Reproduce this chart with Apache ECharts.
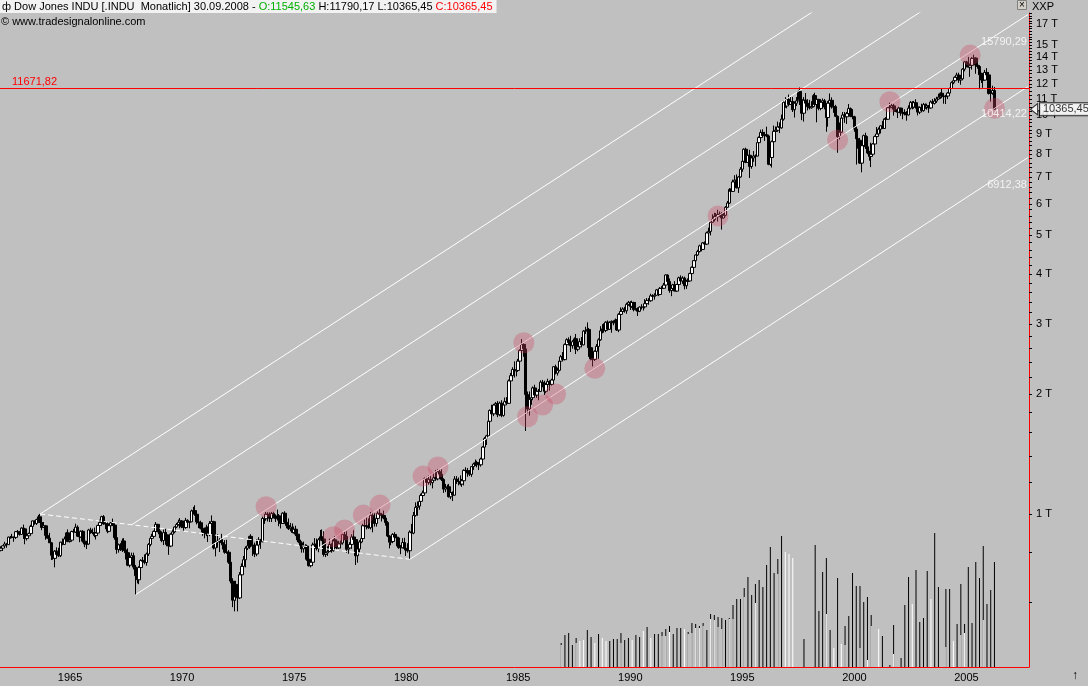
<!DOCTYPE html>
<html>
<head>
<meta charset="utf-8">
<title>Dow Jones INDU - Monatlich</title>
<script src="https://cdn.jsdelivr.net/npm/echarts@6.0.0/dist/echarts.min.js"></script>
<style>
  html, body { margin: 0; padding: 0; background: #c0c0c0; }
  #chart { width: 1088px; height: 686px; }
</style>
</head>
<body>
<div id="chart"></div>
<script>
// --- Kategorien: Monate von 1964-05 bis 2010-03 (Platz rechts vom letzten Bar) ---
const FIRST_YEAR = 1964, FIRST_MONTH = 5, MONTH_COUNT = 551;
const months = [];
for (let i = 0; i < MONTH_COUNT; i++) {
  const m = FIRST_MONTH - 1 + i;
  months.push((FIRST_YEAR + Math.floor(m / 12)) + '-' + String(m % 12 + 1).padStart(2, '0'));
}

// --- Monatskerzen [open, high, low, close], ab 1964-05 ---
const ohlc = [
  // 1964
  [811,830,806,821],[821,834,808,832],[832,852,830,841],[841,845,823,838],[838,878,838,875],[875,881,867,873],[873,892,870,875],[875,877,852,874],
  // 1965
  [874,906,866,903],[903,912,885,903],[903,906,883,889],[889,927,889,922],[922,941,912,918],[918,920,840,868],[868,889,858,882],[882,898,877,893],[893,940,892,931],[931,963,929,961],[961,964,940,947],[947,973,939,969],
  // 1966
  [969,995,966,984],[984,1001,950,952],[952,958,911,925],[925,954,923,934],[934,937,862,884],[884,904,868,870],[870,897,846,847],[847,851,767,788],[788,800,768,774],[774,812,735,807],[807,825,790,792],[792,823,780,786],
  // 1967
  [786,852,780,850],[850,868,835,839],[839,878,838,866],[866,901,860,897],[897,915,850,853],[853,880,848,860],[860,908,857,904],[904,918,890,901],[901,946,897,927],[927,937,876,880],[880,885,850,876],[876,910,872,905],
  // 1968
  [905,911,848,855],[855,862,826,841],[841,849,817,841],[841,918,838,912],[912,924,892,899],[899,920,890,898],[898,925,875,883],[883,902,863,896],[896,940,892,936],[936,968,931,952],[952,990,943,985],[985,994,940,944],
  // 1969
  [944,958,916,946],[946,957,895,905],[905,938,900,935],[935,955,912,950],[950,974,934,938],[938,941,862,873],[873,879,795,815],[815,843,800,837],[837,845,808,813],[813,868,803,856],[856,870,808,812],[812,816,769,800],
  // 1970
  [800,820,740,744],[744,785,735,778],[778,800,760,786],[786,800,726,736],[736,745,627,700],[700,728,670,684],[684,740,667,734],[734,770,700,765],[765,780,742,761],[761,792,748,756],[756,800,742,794],[794,845,785,839],
  // 1971
  [839,875,830,869],[869,892,865,879],[879,910,872,904],[904,955,900,942],[942,945,900,908],[908,928,870,891],[891,905,850,858],[858,915,836,898],[898,918,880,887],[887,900,830,839],[839,848,790,831],[831,895,826,890],
  // 1972
  [890,915,882,902],[902,932,895,928],[928,950,922,941],[941,968,935,954],[954,977,921,961],[961,965,922,929],[929,947,905,925],[925,978,918,964],[964,970,935,953],[953,960,921,956],[956,1026,954,1018],[1018,1042,1000,1020],
  // 1973
  [1020,1052,990,999],[999,1000,942,955],[955,980,922,951],[951,962,915,921],[921,942,882,901],[901,925,869,892],[892,940,880,926],[926,930,851,888],[888,960,880,947],[947,992,940,957],[957,962,815,822],[822,860,783,851],
  // 1974
  [851,890,823,856],[856,870,803,861],[861,892,843,847],[847,865,815,837],[837,860,795,802],[802,862,795,802],[802,812,750,757],[757,800,670,679],[679,690,584,608],[608,680,570,666],[666,680,607,619],[619,625,570,616],
  // 1975
  [616,715,612,704],[704,752,700,739],[739,785,735,768],[768,830,735,821],[821,860,812,832],[832,882,818,879],[879,890,825,832],[832,845,785,835],[835,848,780,794],[794,865,784,836],[836,875,828,861],[861,866,818,852],
  // 1976
  [852,985,850,975],[975,995,945,973],[973,1012,962,999],[999,1011,958,997],[997,1010,955,975],[975,1012,955,1003],[1003,1013,975,985],[985,998,955,974],[974,1026,970,990],[990,1000,932,965],[965,970,920,947],[947,1010,945,1005],
  // 1977
  [1005,1016,946,954],[954,962,921,936],[936,975,912,919],[919,950,905,927],[927,947,895,899],[899,930,893,916],[916,935,880,890],[890,900,850,861],[861,880,832,847],[847,855,800,818],[818,853,800,830],[830,840,803,831],
  // 1978
  [831,838,763,770],[770,785,738,742],[742,768,735,757],[757,848,742,837],[837,870,825,841],[841,868,810,819],[819,870,802,862],[862,912,858,877],[877,915,855,866],[866,905,782,792],[792,820,780,799],[799,830,785,805],
  // 1979
  [805,868,805,839],[839,845,800,809],[809,868,805,862],[862,880,846,855],[855,862,816,822],[822,855,818,842],[842,858,820,846],[846,892,838,888],[888,902,860,879],[879,905,800,816],[816,835,795,822],[822,850,820,839],
  // 1980
  [839,890,818,876],[876,910,848,863],[863,870,745,786],[786,825,755,817],[817,860,800,851],[851,890,845,868],[868,945,866,935],[935,968,918,933],[933,980,915,932],[932,975,918,924],[924,1012,915,993],[993,1010,900,964],
  // 1981
  [964,1005,930,947],[947,985,930,975],[975,1015,965,1004],[1004,1030,980,998],[998,1000,958,992],[992,1020,970,977],[977,980,935,952],[952,960,875,881],[881,885,820,850],[850,880,835,853],[853,895,845,889],[889,900,865,875],
  // 1982
  [875,885,830,871],[871,875,818,824],[824,836,793,823],[823,870,820,848],[848,872,815,820],[820,830,785,812],[812,845,800,809],[809,910,770,901],[901,945,890,896],[896,1012,890,992],[992,1070,985,1039],[1039,1075,990,1047],
  // 1983
  [1047,1100,1025,1076],[1076,1125,1060,1113],[1113,1145,1100,1130],[1130,1235,1115,1226],[1226,1240,1185,1200],[1200,1250,1185,1222],[1222,1250,1180,1199],[1199,1220,1160,1216],[1216,1270,1205,1233],[1233,1290,1212,1225],[1225,1295,1215,1276],[1276,1295,1240,1259],
  // 1984
  [1259,1295,1210,1221],[1221,1230,1130,1155],[1155,1190,1135,1165],[1165,1185,1130,1171],[1171,1190,1100,1105],[1105,1150,1090,1132],[1132,1140,1078,1115],[1115,1245,1115,1224],[1224,1245,1190,1207],[1207,1235,1180,1207],[1207,1250,1180,1189],[1189,1225,1170,1212],
  // 1985
  [1212,1295,1180,1287],[1287,1310,1265,1284],[1284,1305,1240,1267],[1267,1290,1245,1258],[1258,1320,1240,1315],[1315,1345,1290,1335],[1335,1370,1320,1347],[1347,1360,1310,1334],[1334,1345,1290,1329],[1329,1385,1315,1374],[1374,1480,1370,1472],[1472,1560,1460,1547],
  // 1986
  [1547,1580,1490,1571],[1571,1720,1570,1709],[1709,1830,1690,1819],[1819,1880,1750,1784],[1784,1890,1760,1877],[1877,1910,1820,1893],[1893,1920,1750,1775],[1775,1915,1760,1898],[1898,1930,1750,1768],[1768,1890,1755,1878],[1878,1960,1860,1914],[1914,1965,1880,1896],
  // 1987
  [1896,2175,1890,2158],[2158,2260,2140,2224],[2224,2335,2210,2305],[2305,2415,2200,2286],[2286,2345,2215,2292],[2292,2450,2275,2419],[2419,2590,2390,2572],[2572,2747,2540,2663],[2663,2680,2480,2596],[2596,2660,1616,1994],[1994,2030,1790,1834],[1834,2030,1766,1939],
  // 1988
  [1939,2065,1880,1958],[1958,2090,1930,2072],[2072,2110,1975,1988],[1988,2065,1955,2032],[2032,2060,1930,2031],[2031,2165,2025,2142],[2142,2170,2080,2129],[2129,2160,1990,2032],[2032,2125,2010,2113],[2113,2185,2080,2149],[2149,2165,2040,2115],[2115,2185,2100,2169],
  // 1989
  [2169,2350,2140,2342],[2342,2370,2240,2258],[2258,2330,2225,2294],[2294,2430,2280,2419],[2419,2505,2390,2480],[2480,2550,2420,2440],[2440,2680,2430,2661],[2661,2760,2630,2737],[2737,2775,2650,2693],[2693,2800,2550,2645],[2645,2730,2600,2706],[2706,2775,2670,2753],
  // 1990
  [2753,2830,2520,2591],[2591,2660,2560,2627],[2627,2760,2620,2707],[2707,2780,2620,2657],[2657,2895,2650,2877],[2877,2950,2830,2881],[2881,3025,2860,2905],[2905,2930,2480,2614],[2614,2710,2430,2452],[2452,2540,2345,2442],[2442,2575,2420,2560],[2560,2670,2545,2634],
  // 1991
  [2634,2760,2450,2736],[2736,2960,2720,2882],[2882,2995,2840,2914],[2914,3010,2850,2888],[2888,3045,2860,3028],[3028,3060,2900,2907],[2907,3045,2900,3025],[3025,3060,2850,3044],[3044,3060,2975,3017],[3017,3095,2960,3069],[3069,3080,2880,2895],[2895,3190,2860,3169],
  // 1992
  [3169,3300,3150,3223],[3223,3300,3190,3268],[3268,3310,3200,3235],[3235,3390,3180,3359],[3359,3425,3330,3397],[3397,3420,3250,3319],[3319,3430,3290,3394],[3394,3410,3225,3257],[3257,3400,3240,3272],[3272,3300,3140,3226],[3226,3320,3210,3305],[3305,3360,3260,3301],
  // 1993
  [3301,3345,3240,3310],[3310,3460,3280,3371],[3371,3480,3360,3435],[3435,3480,3350,3428],[3428,3570,3410,3527],[3527,3560,3470,3516],[3516,3580,3450,3539],[3539,3670,3530,3651],[3651,3670,3520,3555],[3555,3710,3540,3681],[3681,3730,3580,3684],[3684,3800,3680,3754],
  // 1994
  [3754,3990,3710,3978],[3978,3990,3800,3832],[3832,3900,3590,3636],[3636,3730,3520,3682],[3682,3780,3640,3758],[3758,3840,3620,3625],[3625,3780,3610,3765],[3765,3940,3740,3913],[3913,3970,3810,3843],[3843,3950,3780,3908],[3908,3940,3660,3739],[3739,3870,3670,3834],
  // 1995
  [3834,3900,3800,3844],[3844,4030,3840,4011],[4011,4180,3990,4158],[4158,4340,4140,4321],[4321,4480,4300,4465],[4465,4600,4440,4556],[4556,4740,4530,4708],[4708,4730,4560,4611],[4611,4810,4600,4789],[4789,4830,4670,4755],[4755,5110,4740,5074],[5074,5230,5040,5117],
  // 1996
  [5117,5420,5000,5395],[5395,5650,5380,5486],[5486,5700,5420,5587],[5587,5690,5480,5569],[5569,5800,5420,5643],[5643,5740,5580,5655],[5655,5720,5170,5529],[5529,5720,5520,5616],[5616,5920,5580,5882],[5882,6100,5860,6029],[6029,6570,6000,6522],[6522,6560,6240,6448],
  // 1997
  [6448,6900,6430,6813],[6813,7080,6730,6878],[6878,7110,6560,6583],[6583,7050,6390,7009],[7009,7420,6980,7331],[7331,7800,7220,7673],[7673,8270,7600,8223],[8223,8300,7590,7622],[7622,8000,7600,7945],[7945,8200,6970,7442],[7442,7900,7350,7823],[7823,8140,7650,7908],
  // 1998
  [7908,7980,7450,7907],[7907,8580,7900,8546],[8546,8860,8450,8800],[8800,9210,8740,9063],[9063,9230,8850,8900],[8900,9090,8630,8952],[8952,9370,8820,8883],[8883,8950,7500,7539],[7539,8170,7470,7843],[7843,8650,7400,8592],[8592,9430,8550,9117],[9117,9380,8720,9181],
  // 1999
  [9181,9650,9110,9359],[9359,9600,9030,9307],[9307,10050,9260,9786],[9786,10900,9700,10789],[10789,11110,10450,10560],[10560,11020,10420,10971],[10971,11280,10620,10655],[10655,11120,10640,10829],[10829,11120,10200,10337],[10337,10800,9880,10730],[10730,11120,10560,10878],[10878,11550,10860,11497],
  // 2000
  [11497,11750,10620,10941],[10941,11040,9730,10128],[10128,11120,9650,10922],[10922,11380,10300,10734],[10734,10980,10290,10522],[10522,10940,10350,10448],[10448,10860,10400,10522],[10522,11310,10470,11215],[11215,11400,10630,10651],[10651,10990,9610,10971],[10971,11000,10300,10414],[10414,10950,10300,10788],
  // 2001
  [10788,11030,10400,10887],[10887,11000,10360,10495],[10495,10700,9100,9879],[9879,10860,9370,10735],[10735,11350,10600,10912],[10912,11100,10400,10502],[10502,10700,10150,10523],[10523,10630,9900,9950],[9950,10000,8060,8848],[8848,9600,8700,9075],[9075,9950,9040,9852],[9852,10200,9700,10022],
  // 2002
  [10022,10200,9580,9920],[9920,10200,9520,10106],[10106,10680,10050,10404],[10404,10470,9900,9946],[9946,10370,9780,9925],[9925,9980,9100,9243],[9243,9400,7530,8737],[8737,9100,8250,8664],[8664,8780,7560,7592],[7592,8580,7200,8397],[8397,8950,8300,8896],[8896,9050,8240,8342],
  // 2003
  [8342,8870,7990,8054],[8054,8150,7700,7891],[7891,8540,7420,7992],[7992,8520,7930,8480],[8480,8900,8280,8850],[8850,9350,8840,8985],[8985,9330,8930,9234],[9234,9450,9010,9416],[9416,9690,9270,9275],[9275,9830,9270,9801],[9801,9900,9530,9782],[9782,10470,9770,10454],
  // 2004
  [10454,10760,10380,10488],[10488,10740,10450,10584],[10584,10680,9990,10358],[10358,10580,10200,10226],[10226,10340,9850,10188],[10188,10510,10180,10435],[10435,10440,9980,10140],[10140,10240,9780,10174],[10174,10360,10000,10080],[10080,10250,9700,10027],[10027,10600,10000,10428],[10428,10870,10350,10783],
  // 2005
  [10783,10860,10360,10490],[10490,10870,10400,10766],[10766,10980,10400,10504],[10504,10580,10000,10193],[10193,10530,10080,10467],[10467,10700,10250,10275],[10275,10750,10220,10641],[10641,10720,10390,10482],[10482,10700,10340,10569],[10569,10600,10150,10440],[10440,10900,10400,10806],[10806,10990,10700,10718],
  // 2006
  [10718,11050,10650,10865],[10865,11140,10750,10993],[10993,11340,10950,11109],[11109,11420,11000,11367],[11367,11700,11050,11168],[11168,11250,10700,11150],[11150,11260,10680,11186],[11186,11450,10990,11381],[11381,11740,11300,11679],[11679,12170,11650,12081],[12081,12360,11980,12222],[12222,12530,12150,12463],
  // 2007
  [12463,12800,12350,12622],[12622,12800,12070,12269],[12269,12480,11940,12354],[12354,13140,12350,13063],[13063,13700,12900,13628],[13628,13700,13200,13409],[13409,14020,13200,13212],[13212,13500,12500,13358],[13358,14000,13030,13896],[13896,14200,13690,13930],[13930,13980,12720,13372],[13372,13780,13100,13265],
  // 2008
  [13265,13370,11630,12650],[12650,12800,12060,12266],[12266,12770,11730,12263],[12263,13010,12250,12820],[12820,13140,12550,12638],[12638,12830,11280,11350],[11350,11700,10830,11378],[11378,11870,11270,11546],[11545.63,11790.17,10365.45,10365.45]
];

// --- Volumen (schwarz = fallender Monat, weiss = steigender Monat) ---
const volumeDown = [
  ['1989-05',24],['1989-07',32],['1989-09',34],['1989-11',22],['1990-01',29],['1990-07',37],['1990-09',30],['1991-01',33],
  ['1991-07',26],['1991-09',28],['1991-11',28],['1992-01',34],['1992-03',27],['1992-05',29],['1992-09',32],['1992-11',30],
  ['1993-03',40],['1993-07',33],['1993-09',33],['1993-11',35],['1994-01',38],['1994-03',41],['1994-05',33],['1994-07',39],
  ['1994-09',39],['1995-01',35],['1995-03',44],['1995-05',43],['1995-07',41],['1995-09',44],['1995-11',37],['1996-01',53],
  ['1996-03',52],['1996-05',50],['1996-07',49],['1996-09',47],['1996-11',49],['1997-01',62],['1997-03',68],['1997-05',68],
  ['1997-07',79],['1997-09',90],['1997-11',72],['1998-01',83],['1998-03',87],['1998-05',80],['1998-07',102],['1998-09',120],
  ['1998-11',94],['1999-01',108],['1999-03',131],['2000-03',28],['2000-09',122],['2000-11',56],['2001-01',95],['2001-03',109],
  ['2001-05',37],['2001-09',89],['2002-01',41],['2002-03',51],['2002-05',94],['2002-07',81],['2002-09',81],['2002-11',65],
  ['2003-01',70],['2003-03',52],['2003-09',31],['2004-01',2],['2004-03',42],['2004-07',9],['2004-09',62],['2004-11',90],
  ['2005-03',97],['2005-05',45],['2005-07',49],['2005-09',96],['2006-01',134],['2006-03',80],['2006-07',78],['2006-09',78],
  ['2007-01',43],['2007-03',83],['2007-05',43],['2007-07',100],['2007-09',44],['2007-11',105],['2008-01',89],['2008-03',121],
  ['2008-05',63],['2008-07',77],['2008-09',105]
];
const volumeUp = [
  ['1989-05',22],['1990-01',24],['1990-03',26],['1990-05',27],['1990-11',24],['1991-03',29],['1991-05',26],['1992-01',24],
  ['1992-07',27],['1993-01',36],['1993-05',29],['1993-11',31],['1994-01',31],['1994-03',35],['1994-11',38],['1995-01',33],
  ['1995-03',34],['1995-05',39],['1995-07',39],['1995-09',41],['1996-01',48],['1996-03',47],['1996-05',40],['1996-07',38],
  ['1996-11',48],['1997-01',48],['1997-07',70],['1998-01',64],['1999-01',93],['1999-05',115],['1999-07',113],['1999-09',109],
  ['2001-03',53],['2001-07',19],['2001-11',23],['2002-01',22],['2002-09',19],['2003-01',7],['2003-03',41],['2003-07',38],
  ['2004-03',13],['2005-01',63],['2005-11',68],['2006-07',20],['2006-11',26],['2007-03',32],['2007-05',34],['2008-03',47]
];

// --- Trendkanal (parallele Linien) und Hilfslinie ---
const channelA = [['1966-02', 1000], ['2010-03', 40860]];
const channelB = [['1970-03', 940], ['2010-03', 27240]];
const channelC = [['1970-05', 627], ['2010-03', 17920]];
const channelD = [['1978-07', 822], ['2010-03', 11815]];
const channelE = [['1982-08', 770], ['2010-03', 7845]];
const guideDashed = [['1966-02', 1000], ['1970-03', 940], ['1982-08', 770]];
const channelLabels = [['2008-09', 15790.29], ['2008-09', 10414.22], ['2008-09', 6912.38]];

// Beruehrungspunkte (rote Kreise)
const touches = [
  ['1976-03', 1043], ['1979-03', 877], ['1979-09', 912], ['1980-07', 994], ['1981-04', 1053],
  ['1983-03', 1245], ['1983-11', 1312], ['1987-09', 2690], ['1987-11', 1754], ['1988-07', 1877],
  ['1989-02', 2001], ['1990-11', 2320], ['1996-05', 5593], ['2001-09', 8677], ['2004-01', 10825],
  ['2007-08', 14170], ['2008-09', 10418]
];

const RESISTANCE = 11671.82;
const LAST_PRICE = 10365.45;

// Achsen
const PRICE_MIN = 413.3, PRICE_MAX = 18070;
const yLabelValues = [1, 2, 3, 4, 5, 6, 7, 8, 9, 10, 11, 12, 13, 14, 15, 17]; // in Tausend ("T")
const xLabelYears = [1965, 1970, 1975, 1980, 1985, 1990, 1995, 2000, 2005];

const COLORS = {
  bg: '#c0c0c0',
  candle: '#000000',
  up: '#ffffff',
  channel: '#ffffff',
  red: '#ff0000',
  green: '#00b000',
  touch: 'rgba(205, 70, 100, 0.42)'
};
const FONT = 'Liberation Sans, Arial, sans-serif';

const fmt = v => v.toFixed(2).replace('.', ',');

// Tick-Positionen der Preisachse (log10-Werte)
const yTickValues = [];
for (let k = 3; k <= 50; k++) yTickValues.push(Math.log10(k * 200));
for (let k = 41; k <= 72; k++) yTickValues.push(Math.log10(k * 250));

const chart = echarts.init(document.getElementById('chart'));
const last = ohlc[ohlc.length - 1];

const channelLine = (name, data) => ({
  name, type: 'line', data, xAxisIndex: 0, yAxisIndex: 0,
  symbol: 'none', silent: true, z: 3,
  lineStyle: { color: COLORS.channel, width: 1 }
});

const plainText = (color) => ({ color, fontSize: 11, fontWeight: 'normal', fontFamily: FONT });

const option = {
  backgroundColor: COLORS.bg,
  animation: false,
  title: [
    {
      left: 0, top: 0, padding: [1, 4, 1, 2],
      backgroundColor: '#f2f2f2',
      text: '{t|ф Dow Jones INDU [.INDU  Monatlich] 30.09.2008 - }{g|O:' + fmt(last[0]) + '}{t| H:' + fmt(last[1]) +
        ' L:' + fmt(last[2]) + ' }{r|C:' + fmt(last[3]) + '}',
      textStyle: {
        fontWeight: 'normal', fontSize: 11, fontFamily: FONT,
        rich: { t: plainText('#000'), g: plainText(COLORS.green), r: plainText(COLORS.red) }
      }
    },
    { left: 1, top: 16, padding: 0, text: '© www.tradesignalonline.com', textStyle: plainText('#000') },
    { left: 1032, top: 1, padding: 0, text: 'XXP', textStyle: plainText('#000') },
    { left: 1017, top: 0, padding: [0, 2], text: '×', backgroundColor: '#d4d0c8',
      borderColor: '#808080', borderWidth: 1,
      textStyle: { color: '#000', fontSize: 10, fontWeight: 'normal', fontFamily: FONT, lineHeight: 10 } },
    { left: 1072, top: 670, padding: 0, text: '↑',
      textStyle: { color: '#000', fontSize: 12, fontWeight: 'normal', fontFamily: FONT } }
  ],
  grid: [
    { left: 0, right: 59, top: 13, bottom: 19, outerBoundsMode: 'none' },
    { left: 0, right: 59, top: 527, bottom: 19, outerBoundsMode: 'none' }
  ],
  xAxis: [
    {
      type: 'category', gridIndex: 0, data: months, boundaryGap: true,
      axisLine: { lineStyle: { color: COLORS.red, width: 1 } },
      axisTick: {
        length: 5, lineStyle: { color: '#000' },
        interval: (i, v) => v.endsWith('-01') && xLabelYears.includes(+v.slice(0, 4))
      },
      axisLabel: {
        color: '#000', fontSize: 11, fontFamily: FONT, margin: 5,
        // Jahresbeschriftung mittig im 5-Jahres-Abschnitt
        interval: (i, v) => v.endsWith('-06') && xLabelYears.includes(+v.slice(0, 4) - 2),
        formatter: v => String(+v.slice(0, 4) - 2)
      },
      splitLine: { show: false }
    },
    { type: 'category', gridIndex: 1, data: months, boundaryGap: true, show: false }
  ],
  yAxis: [
    { type: 'log', logBase: 10, gridIndex: 0, min: PRICE_MIN, max: PRICE_MAX, show: false, splitLine: { show: false } },
    {
      // nur Beschriftung: gleiche Spanne in log10-Einheiten
      type: 'value', gridIndex: 0, position: 'right',
      min: Math.log10(PRICE_MIN), max: Math.log10(PRICE_MAX),
      axisLine: { show: true, lineStyle: { color: COLORS.red, width: 1 } },
      axisTick: { show: true, length: 3, customValues: yTickValues, lineStyle: { color: '#000' } },
      axisLabel: {
        color: '#000', fontSize: 11, fontFamily: FONT, margin: 7,
        customValues: yLabelValues.map(v => Math.log10(v * 1000)),
        formatter: v => Math.round(Math.pow(10, v) / 1000) + ' T'
      },
      splitLine: { show: false }
    },
    { type: 'value', gridIndex: 1, min: 0, max: 140, show: false, splitLine: { show: false } }
  ],
  series: [
    {
      name: 'INDU', type: 'candlestick', xAxisIndex: 0, yAxisIndex: 0,
      data: ohlc.map(r => [r[0], r[3], r[2], r[1]]),
      barWidth: 3, z: 2,
      itemStyle: {
        color: COLORS.up, color0: COLORS.candle,
        borderColor: COLORS.candle, borderColor0: COLORS.candle, borderWidth: 1
      },
      markLine: {
        silent: true, symbol: 'none', z: 6,
        lineStyle: { color: COLORS.red, width: 1, type: 'solid' },
        label: {
          position: 'insideStartTop', formatter: fmt(RESISTANCE), color: COLORS.red,
          fontSize: 11, fontFamily: FONT, padding: [0, 0, 0, 11], distance: 1
        },
        data: [{ yAxis: RESISTANCE }]
      }
    },
    channelLine('A', channelA),
    channelLine('B', channelB),
    channelLine('C', channelC),
    channelLine('D', channelD),
    channelLine('E', channelE),
    {
      name: 'guide', type: 'line', data: guideDashed, xAxisIndex: 0, yAxisIndex: 0,
      symbol: 'none', silent: true, z: 3,
      lineStyle: { color: COLORS.channel, width: 1, type: [5, 3] }
    },
    {
      name: 'touches', type: 'scatter', data: touches, xAxisIndex: 0, yAxisIndex: 0,
      symbol: 'circle', symbolSize: 21, z: 5, silent: true,
      itemStyle: { color: COLORS.touch }
    },
    {
      name: 'channelLabels', type: 'scatter', data: channelLabels, xAxisIndex: 0, yAxisIndex: 0,
      symbolSize: 1, z: 6, silent: true,
      itemStyle: { color: 'rgba(0,0,0,0)' },
      label: {
        show: true, position: 'right', distance: 32, align: 'right', offset: [0, 6],
        color: '#ffffff', fontSize: 11, fontFamily: FONT,
        formatter: p => fmt(p.value[1])
      }
    },
    {
      name: 'lastPrice', type: 'scatter', data: [['2010-03', LAST_PRICE]], xAxisIndex: 0, yAxisIndex: 0,
      clip: false, silent: true, z: 7,
      symbol: 'path://M0,5 L7,0 L7,10 Z', symbolSize: [7, 11], symbolOffset: [6, 0],
      itemStyle: { color: '#ffffff', borderColor: '#000', borderWidth: 1 },
      label: {
        show: true, position: 'right', distance: 2,
        backgroundColor: '#ffffff', borderColor: '#000', borderWidth: 1, padding: [1, 3, 0, 3],
        color: '#000', fontSize: 11, fontFamily: FONT,
        formatter: p => fmt(p.value[1])
      }
    },
    {
      name: 'VolDown', type: 'bar', data: volumeDown, xAxisIndex: 1, yAxisIndex: 2,
      barWidth: 1, barGap: '-100%', silent: true, itemStyle: { color: '#000' }
    },
    {
      name: 'VolUp', type: 'bar', data: volumeUp, xAxisIndex: 1, yAxisIndex: 2,
      barWidth: 1, barGap: '-100%', silent: true, itemStyle: { color: '#fff' }
    }
  ]
};

chart.setOption(option);
</script>
</body>
</html>
